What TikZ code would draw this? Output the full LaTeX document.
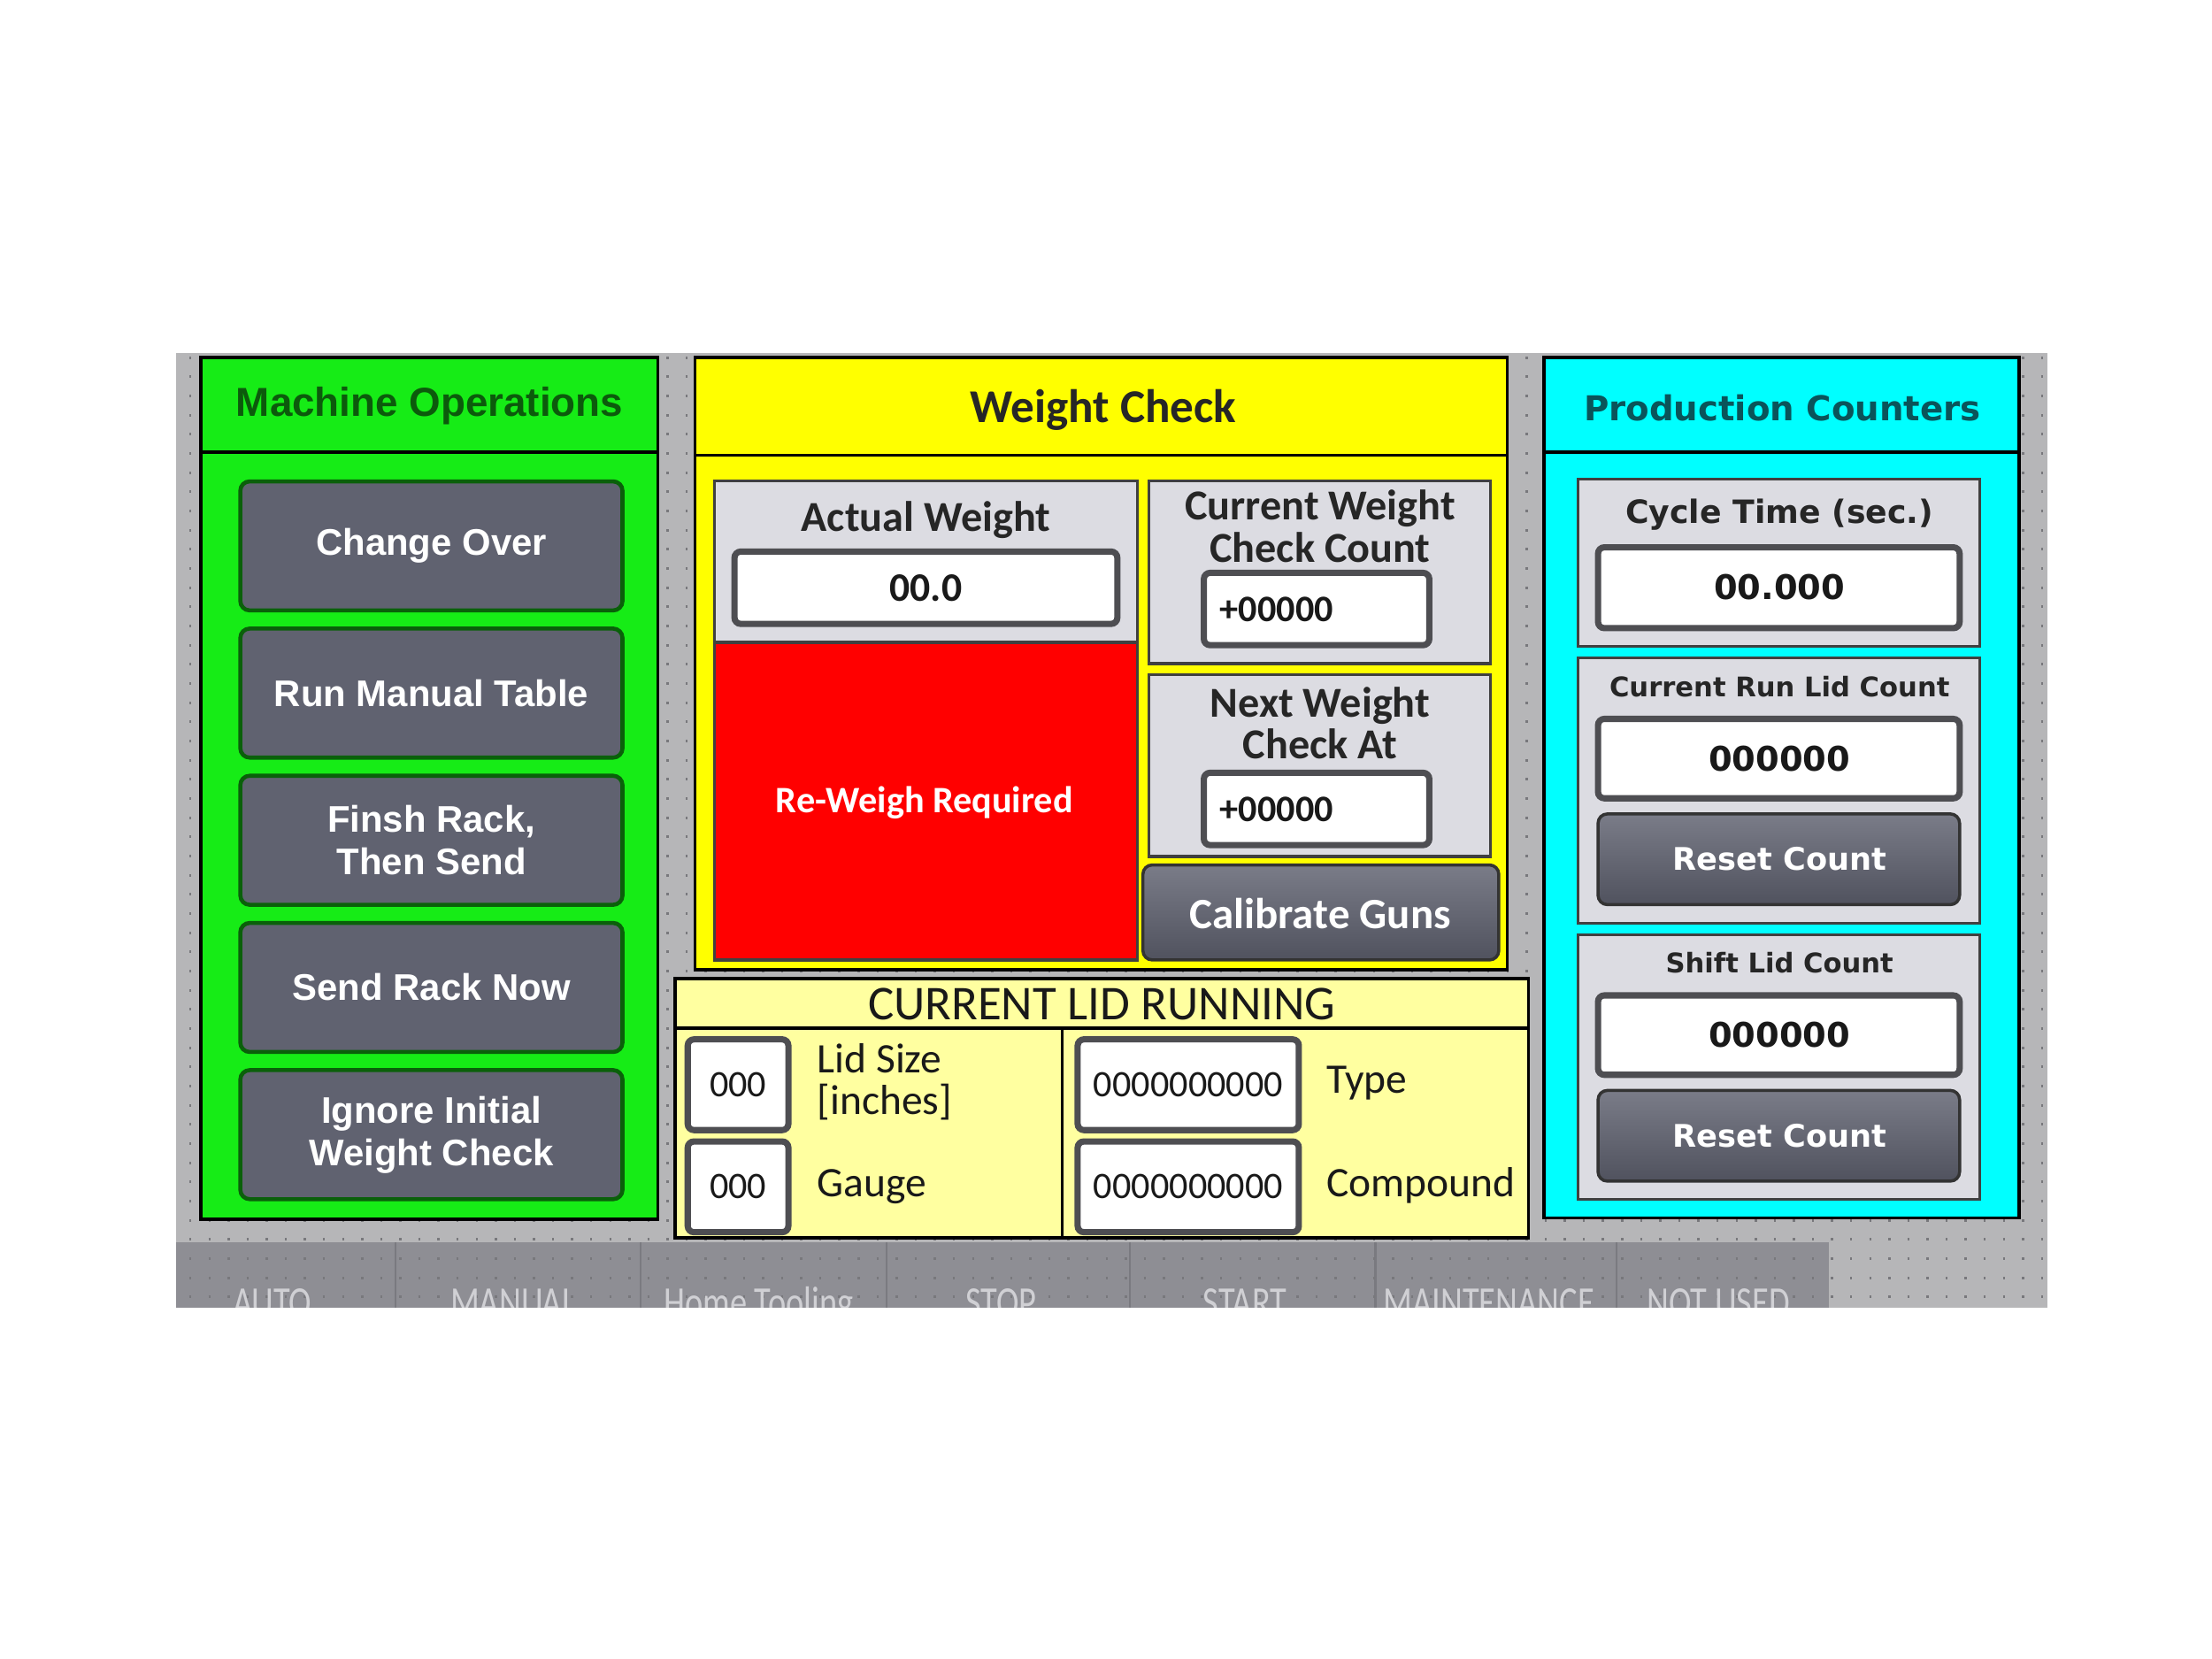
\documentclass[tikz,border=0pt]{standalone}
\usepackage{fontspec}
\setmainfont{Liberation Sans}
\newfontfamily\calfont{Carlito}
\newfontfamily\verfont{DejaVu Sans}
\newfontfamily\barfont[FakeStretch=0.78]{Carlito}
\usepackage{tikz}
\usetikzlibrary{positioning}
\definecolor{bggray}{RGB}{182,182,184}
\definecolor{bargray}{RGB}{142,142,148}
\definecolor{bardiv}{RGB}{122,122,128}
\definecolor{dotgray}{RGB}{120,120,124}
\definecolor{barink}{RGB}{208,208,212}
\definecolor{hmigreen}{RGB}{22,236,22}
\definecolor{titlegreen}{RGB}{12,90,12}
\definecolor{btngray}{RGB}{96,98,112}
\definecolor{btnedge}{RGB}{10,96,10}
\definecolor{btntop}{RGB}{122,124,136}
\definecolor{btnbot}{RGB}{80,82,94}
\definecolor{hmiyellow}{RGB}{255,255,0}
\definecolor{paleyellow}{RGB}{255,255,160}
\definecolor{boxgray}{RGB}{220,220,226}
\definecolor{hmired}{RGB}{255,0,0}
\definecolor{hmicyan}{RGB}{0,255,255}
\definecolor{titleteal}{RGB}{10,84,90}
\definecolor{fieldedge}{RGB}{78,78,82}
\tikzset{
    panel/.style={draw=black, line width=1pt}, % outer frame of each group
    opbutton/.style={draw=btnedge, fill=btngray, line width=1.3pt, rounded corners=3pt},
    shadebutton/.style={draw=black!80, line width=1pt, rounded corners=3pt,
        top color=btntop, bottom color=btnbot},
    infobox/.style={draw=black!75, fill=boxgray, line width=0.9pt},
    field/.style={draw=fieldedge, fill=white, line width=2pt, rounded corners=2pt},
    dotgrid/.style={draw=dotgray, line width=0.9pt, dash pattern=on 0.7pt off 5.431pt},
    % texts
    optitle/.style={text=titlegreen, font=\fontsize{13}{15}\selectfont\bfseries},
    optext/.style={text=white, align=center, font=\fontsize{11.9}{13.6}\selectfont\bfseries},
    wctitle/.style={text=black!85, font=\calfont\fontsize{15.1}{17}\selectfont\bfseries},
    wclabel/.style={text=black!85, align=center, font=\calfont\fontsize{13.7}{13.6}\selectfont\bfseries},
    wcvalue/.style={text=black!90, inner sep=0pt, font=\calfont\fontsize{12}{14}\selectfont\bfseries},
    alarmtext/.style={text=white, font=\calfont\fontsize{12}{14}\selectfont\bfseries},
    btntext/.style={text=white, font=\calfont\fontsize{13.9}{16}\selectfont\bfseries},
    lidtitle/.style={text=black!90, font=\calfont\fontsize{15.6}{18}\selectfont},
    lidlabel/.style={text=black!90, align=left, inner sep=0pt, font=\calfont\fontsize{13.5}{13.6}\selectfont},
    lidvalue/.style={text=black!90, font=\calfont\fontsize{12}{14}\selectfont},
    pctitle/.style={text=titleteal, font=\verfont\fontsize{11}{13}\selectfont\bfseries},
    pclabel/.style={text=black!85, font=\verfont\fontsize{10.3}{12}\selectfont\bfseries},
    pcsmall/.style={text=black!85, font=\verfont\fontsize{8.7}{10}\selectfont\bfseries},
    pcvalue/.style={text=black!90, font=\verfont\fontsize{10.9}{12}\selectfont\bfseries},
    resettext/.style={text=white, font=\verfont\fontsize{10}{12}\selectfont\bfseries},
    barlabel/.style={text=barink, font=\barfont\fontsize{14}{16}\selectfont}
}
\begin{document}
\begin{tikzpicture}[x=0.016cm, y=-0.016cm]
        \useasboundingbox (0,0) rectangle (1560,1170);
        \fill[white] (0,0) rectangle (1560,1170);

        % Screen background and bottom menu bar
        \fill[bggray] (124,249) rectangle (1444,922);
        \fill[bargray] (124,876) rectangle (1290,922);
        \foreach \x in {279,452,625,797,970,1140} {
                \draw[bardiv, line width=0.6pt] (\x,876) -- (\x,922);
            }

        % Dot grid
        \foreach \k in {0,...,49} {
                \draw[dotgrid] (133.5,{252.2+13.52*\k}) -- (1444,{252.2+13.52*\k});
            }

        % Menu labels, cut off at the screen edge
        \begin{scope}
            \clip (124,876) rectangle (1444,922);
            \foreach \x/\t [count=\i] in {192/AUTO, 362/MANUAL, 535/Home Tooling, 706/STOP,
                    878/START, 1050/MAINTENANCE, 1212/NOT USED} {
                    \node[barlabel, anchor=base] (menu\i) at (\x,929) {\t};
                }
        \end{scope}

        % Machine Operations group
        \fill[hmigreen] (141.5,252) rectangle (464,860);
        \draw[panel] (141.5,252) rectangle (464,860);
        \draw[panel] (141.5,319) -- (464,319);
        \node[optitle] (opstitle) at (303,286) {Machine Operations};
        \foreach \t [count=\i from 0] in {Change Over, Run Manual Table, {Finsh Rack,\\Then Send},
                Send Rack Now, {Ignore Initial\\Weight Check}} {
                \draw[opbutton] (169.5,{339.5+103.8*\i}) rectangle (439,{430.5+103.8*\i});
                \node[optext] (op\i) at (304.25,{385+103.8*\i}) {\t};
            }

        % Weight Check group
        \fill[hmiyellow] (490,252) rectangle (1063,684);
        \draw[panel] (490,252) rectangle (1063,684);
        \draw[panel] (490,321) -- (1063,321);
        \node[wctitle] (wctitle) at (778,289) {Weight Check};

        % Actual weight and alarm
        \draw[infobox] (504,339) rectangle (802,453);
        \draw[infobox, fill=hmired] (504,453) rectangle (802,677);
        \draw[field] (518,389) rectangle (788,440);
        \node[wcvalue, font=\calfont\fontsize{13}{15}\selectfont\bfseries] (actval) at (653,415) {00.0};
        \node[wclabel] (actlbl) at (653,367) {Actual Weight};
        \node[alarmtext] (reweigh) at (652,566) {Re-Weigh Required};

        % Check counters
        \draw[infobox] (810,339) rectangle (1051,468);
        \node[wclabel] (curlbl) at (931,371) {Current Weight\\Check Count};
        \draw[field] (849,404) rectangle (1008,455);
        \node[wcvalue, anchor=west] (curval) at (860,430) {+00000};

        \draw[infobox] (810,476) rectangle (1051,604);
        \node[wclabel] (nextlbl) at (931,510) {Next Weight\\Check At};
        \draw[field] (849,545) rectangle (1008,596);
        \node[wcvalue, anchor=west] (nextval) at (860,571) {+00000};

        \draw[shadebutton] (806,610) rectangle (1057,677);
        \node[btntext] (calib) at (931,644) {Calibrate Guns};

        % Current Lid Running group
        \fill[paleyellow] (476,690) rectangle (1078,873);
        \draw[panel] (476,690) rectangle (1078,873);
        \draw[panel] (476,725) -- (1078,725);
        \draw[panel] (749,725) -- (749,873);
        \node[lidtitle] (lidtitle) at (777,708) {CURRENT LID RUNNING};

        \draw[field] (485,733) rectangle (556,797);
        \node[lidvalue] (sizeval) at (520.5,765) {000};
        \draw[field] (485,805) rectangle (556,869);
        \node[lidvalue] (gaugeval) at (520.5,837) {000};
        \node[lidlabel, anchor=west] (sizelbl) at (576,763) {Lid Size\\{[inches]}};
        \node[lidlabel, anchor=west] (gaugelbl) at (576,837) {Gauge};

        \draw[field] (760,733) rectangle (916,797);
        \node[lidvalue] (typeval) at (838,765) {0000000000};
        \draw[field] (760,805) rectangle (916,869);
        \node[lidvalue] (compval) at (838,837) {0000000000};
        \node[lidlabel, anchor=west] (typelbl) at (935,764) {Type};
        \node[lidlabel, anchor=west] (complbl) at (935,836) {Compound};

        % Production Counters group
        \fill[hmicyan] (1089,252) rectangle (1424,859);
        \draw[panel] (1089,252) rectangle (1424,859);
        \draw[panel] (1089,319) -- (1424,319);
        \node[pctitle] (pctitle) at (1257,288) {Production Counters};

        \draw[infobox] (1113,338) rectangle (1396,456);
        \node[pclabel] (cyclelbl) at (1255,363) {Cycle Time (sec.)};
        \draw[field] (1127,386) rectangle (1382,443);
        \node[pcvalue] (cycleval) at (1255,414) {00.000};

        % Lid counts with reset buttons
        \foreach \lbl/\y [count=\i] in {Current Run Lid Count/464, Shift Lid Count/659} {
                \draw[infobox] (1113,\y) rectangle (1396,\y+187);
                \node[pcsmall] (countlbl\i) at (1255,\y+20) {\lbl};
                \draw[field] (1127,\y+43) rectangle (1382,\y+99);
                \node[pcvalue] (countval\i) at (1255,\y+71) {000000};
                \draw[shadebutton] (1127,\y+110) rectangle (1382,\y+174);
                \node[resettext] (reset\i) at (1255,\y+142) {Reset Count};
            }

    \end{tikzpicture}
\end{document}
